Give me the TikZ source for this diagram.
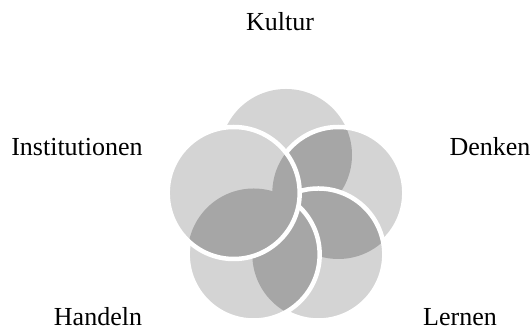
\documentclass[tikz,border=0pt]{standalone}
\usepackage{fontspec}
\setmainfont{Liberation Serif}
\usetikzlibrary{positioning}
\definecolor{ringG}{RGB}{212,212,212}
\definecolor{lensG}{RGB}{166,166,166}

\begin{document}
\begin{tikzpicture}[
  x=1pt,y=1pt,
  lab/.style={font=\fontsize{26}{30}\selectfont,anchor=base,inner sep=0pt},
  rim/.style={draw=white,line width=4.5pt}
]
  \useasboundingbox (0,0) rectangle (531,331);
  \def\rad{66}
  \coordinate (O) at (286,121);
  \foreach \n/\a in {T/90,D/18,L/-54,H/-126,I/162}
    \path (O) ++(\a:55) coordinate (\n);

  % rings
  \foreach \n in {T,D,L,H,I}
    \fill[ringG] (\n) circle[radius=\rad];

  % lenses between neighbours
  \foreach \p/\q in {T/D,D/L,L/H,H/I} {
    \begin{scope}
      \clip (\p) circle[radius=\rad];
      \fill[lensG] (\q) circle[radius=\rad];
    \end{scope}
  }

  % white rims, each one cut where a later ring lies over it
  \draw[rim] (I) circle[radius=\rad];
  \begin{scope}[even odd rule]
    \clip (-60,-60) -- (600,-60) -- (600,400) -- (-60,400) -- cycle
      (I) ++(\rad,0) arc[start angle=0,end angle=-360,radius=\rad];
    \draw[rim] (H) circle[radius=\rad];
    \clip (-60,-60) -- (600,-60) -- (600,400) -- (-60,400) -- cycle
      (H) ++(\rad,0) arc[start angle=0,end angle=-360,radius=\rad];
    \draw[rim] (L) circle[radius=\rad];
    \clip (-60,-60) -- (600,-60) -- (600,400) -- (-60,400) -- cycle
      (L) ++(\rad,0) arc[start angle=0,end angle=-360,radius=\rad];
    \draw[rim] (D) circle[radius=\rad];
  \end{scope}

  % labels
  \node[lab] (kultur) at (280,300) {Kultur};
  \node[lab] (denken) at (490,175) {Denken};
  \node[lab] (lernen) at (460,5) {Lernen};
  \node[lab] (handeln) at (98,5) {Handeln};
  \node[lab] (inst) at (77,175) {Institutionen};
\end{tikzpicture}
\end{document}
